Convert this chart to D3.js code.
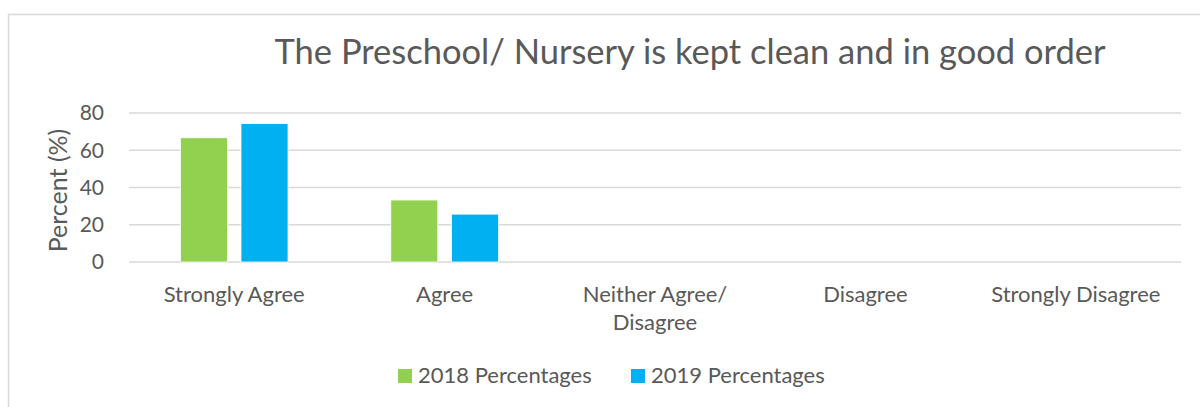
<!DOCTYPE html>
<html>
<head>
<meta charset="utf-8">
<script src="https://cdn.jsdelivr.net/npm/d3@7"></script>
<style>
  html, body { margin: 0; padding: 0; background: #fff; }
  svg { display: block; font-family: Lato, "Open Sans", sans-serif; }
</style>
</head>
<body>
<svg id="canvas" width="1200" height="407"></svg>
<script>
const title = "The Preschool/ Nursery is kept clean and in good order";
const categories = ["Strongly Agree", "Agree", "Neither Agree/\nDisagree", "Disagree", "Strongly Disagree"];
const seriesNames = ["2018 Percentages", "2019 Percentages"];
const values2018 = [66.7, 33.3, 0, 0, 0];
const values2019 = [74.3, 25.7, 0, 0, 0];
const yTicks = [0, 20, 40, 60, 80];
const colors = ["#92D050", "#00B0F0"];

const svg = d3.select("svg#canvas");
const width = +svg.attr("width");
const height = +svg.attr("height");
const margin = { top: 113, right: 19, bottom: 145, left: 129 };
const textColor = "#595959";
const gridColor = "#d9d9d9";

// chart area border (only top and left visible in the crop)
svg.append("path")
  .attr("d", `M8.5,${height} V14.5 H${width}`)
  .attr("fill", "none")
  .attr("stroke", gridColor)
  .attr("stroke-width", 1.5);

const x0 = d3.scaleBand()
  .domain(categories)
  .range([margin.left, width - margin.right]);

const groupW = 107.6;
const x1 = d3.scaleBand()
  .domain(seriesNames)
  .range([(x0.bandwidth() - groupW) / 2, (x0.bandwidth() + groupW) / 2])
  .paddingInner(0.224);

const y = d3.scaleLinear()
  .domain([0, 80])
  .range([height - margin.bottom, margin.top]);

// gridlines
svg.append("g")
  .selectAll("line")
  .data(yTicks)
  .enter()
  .append("line")
  .attr("x1", margin.left)
  .attr("x2", width - margin.right)
  .attr("y1", (d) => y(d))
  .attr("y2", (d) => y(d))
  .attr("stroke", gridColor)
  .attr("stroke-width", 1.5);

// y tick labels
svg.append("g")
  .selectAll("text")
  .data(yTicks)
  .enter()
  .append("text")
  .attr("x", 104)
  .attr("y", (d) => y(d))
  .attr("dy", "0.35em")
  .attr("text-anchor", "end")
  .attr("font-size", 21)
  .attr("fill", textColor)
  .text((d) => d);

// y axis title
svg.append("text")
  .attr("transform", `translate(67,${(y(0) + y(80)) / 2 + 3}) rotate(-90)`)
  .attr("text-anchor", "middle")
  .attr("font-size", 25)
  .attr("fill", textColor)
  .text("Percent (%)");

// bars
const series = [values2018, values2019];
const groups = svg.append("g")
  .selectAll("g")
  .data(categories)
  .enter()
  .append("g")
  .attr("transform", (d) => `translate(${x0(d)},0)`);

groups.selectAll("rect")
  .data((d, i) => seriesNames.map((s, j) => ({ s, v: series[j][i], c: colors[j] })))
  .enter()
  .append("rect")
  .attr("x", (d) => x1(d.s))
  .attr("width", x1.bandwidth())
  .attr("y", (d) => y(d.v))
  .attr("height", (d) => y(0) - y(d.v))
  .attr("fill", (d) => d.c)
  .attr("stroke", "#fff")
  .attr("stroke-width", 0.8);

// category labels
const catLabels = svg.append("g")
  .selectAll("text")
  .data(categories)
  .enter()
  .append("text")
  .attr("x", (d) => x0(d) + x0.bandwidth() / 2)
  .attr("y", 302)
  .attr("text-anchor", "middle")
  .attr("font-size", 22)
  .attr("fill", textColor);

catLabels.selectAll("tspan")
  .data((d) => d.split("\n"))
  .enter()
  .append("tspan")
  .attr("x", function () { return this.parentNode.getAttribute("x"); })
  .attr("dy", (d, i) => (i === 0 ? 0 : 28))
  .text((d) => d);

// title
svg.append("text")
  .attr("x", 690)
  .attr("y", 64)
  .attr("text-anchor", "middle")
  .attr("font-size", 34.5)
  .attr("fill", textColor)
  .text(title);

// legend
const legendX = [398, 631];
const legend = svg.append("g")
  .selectAll("g")
  .data(seriesNames)
  .enter()
  .append("g")
  .attr("transform", (d, i) => `translate(${legendX[i]},369)`);

legend.append("rect")
  .attr("width", 14)
  .attr("height", 14)
  .attr("fill", (d, i) => colors[i]);

legend.append("text")
  .attr("x", 20)
  .attr("y", 13.5)
  .attr("font-size", 22)
  .attr("fill", textColor)
  .text((d) => d);
</script>
</body>
</html>
